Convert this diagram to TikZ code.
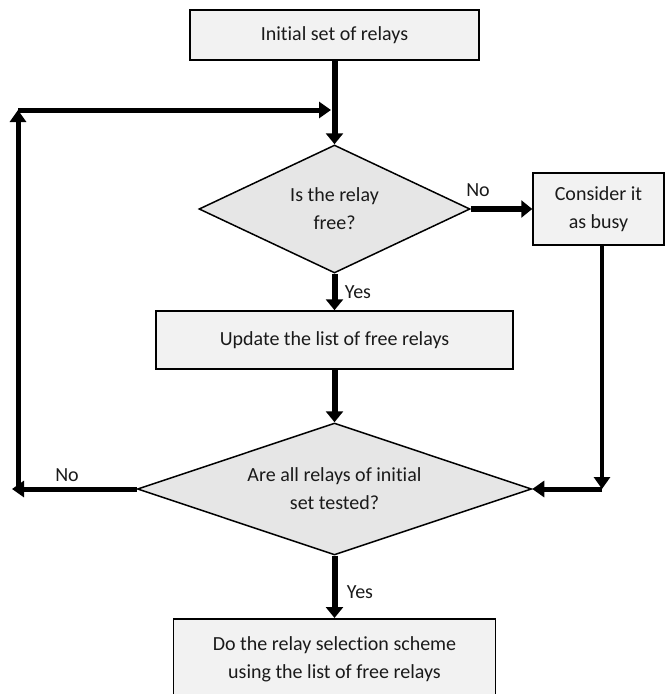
\documentclass[tikz,border=0pt]{standalone}
\usepackage{fontspec}
\setmainfont{Carlito}[RawFeature={-liga;-clig;-dlig}]
\usetikzlibrary{shapes.geometric,arrows.meta}
\definecolor{boxfill}{HTML}{F2F2F2}
\definecolor{diafill}{HTML}{E6E6E6}
\definecolor{ink}{HTML}{1A1A1A}
\begin{document}
\begin{tikzpicture}[x=1pt,y=-1pt,
  font=\fontsize{20}{28}\selectfont, text=ink,
  procbox/.style={draw=black, line width=1.5pt, fill=boxfill, rectangle, inner sep=0pt, align=center},
  decision/.style={draw=black, line width=1.5pt, fill=diafill, diamond, inner sep=0pt, align=center},
  flow/.style={line width=6pt, -{Triangle[length=11pt,width=17pt]}},
  loopline/.style={line width=5pt, -{Triangle[length=12pt,width=16pt]}},
  thinline/.style={line width=4.5pt, -{Triangle[length=12pt,width=16pt]}},
  lbl/.style={inner sep=0pt}
]
\clip (0,0) rectangle (665,694);
\node[procbox, minimum width=289pt, minimum height=50pt] (init) at (334.5,35) {Initial set of relays};
\node[decision, aspect=2, minimum width=271pt, minimum height=128pt] (free) at (334.5,209) {Is the relay\\free?};
\node[procbox, minimum width=131pt, minimum height=72pt] (busy) at (598.5,209) {Consider it\\as busy};
\node[procbox, minimum width=357pt, minimum height=58pt] (upd) at (334.5,340) {Update the list of free relays};
\node[decision, aspect=3, minimum width=394pt, minimum height=132pt] (all) at (334.5,489) {Are all relays of initial\\set tested?};
\node[procbox, minimum width=322pt, minimum height=82pt, anchor=north] (sel) at (334.5,618) {Do the relay selection scheme\\using the list of free relays};

\coordinate (lt) at (18,110);
\coordinate (lb) at (18,489);
\coordinate (rb) at (602,489);
\coordinate (jn) at (331,110);

\node[lbl] (no1) at (478,190) {No};
\node[lbl] (yes1) at (358,292) {Yes};
\node[lbl] (no2) at (67,475) {No};
\node[lbl] (yes2) at (360,592) {Yes};

\draw[flow] (init.south) -- (free.north);
\draw[loopline] (lb) -- (lt);
\draw[loopline] (lt) -- (jn);
\draw[flow] (free.east) -- (busy.west);
\draw[flow] (free.south) -- (upd.north);
\draw[flow] (upd.south) -- (all.north);
\draw[thinline] (busy.south -| rb) -- (rb);
\draw[loopline] (rb) -- (all.east);
\draw[loopline] (all.west) -- ([xshift=-6pt]lb);
\draw[flow] (all.south) -- (sel.north);
\end{tikzpicture}
\end{document}
